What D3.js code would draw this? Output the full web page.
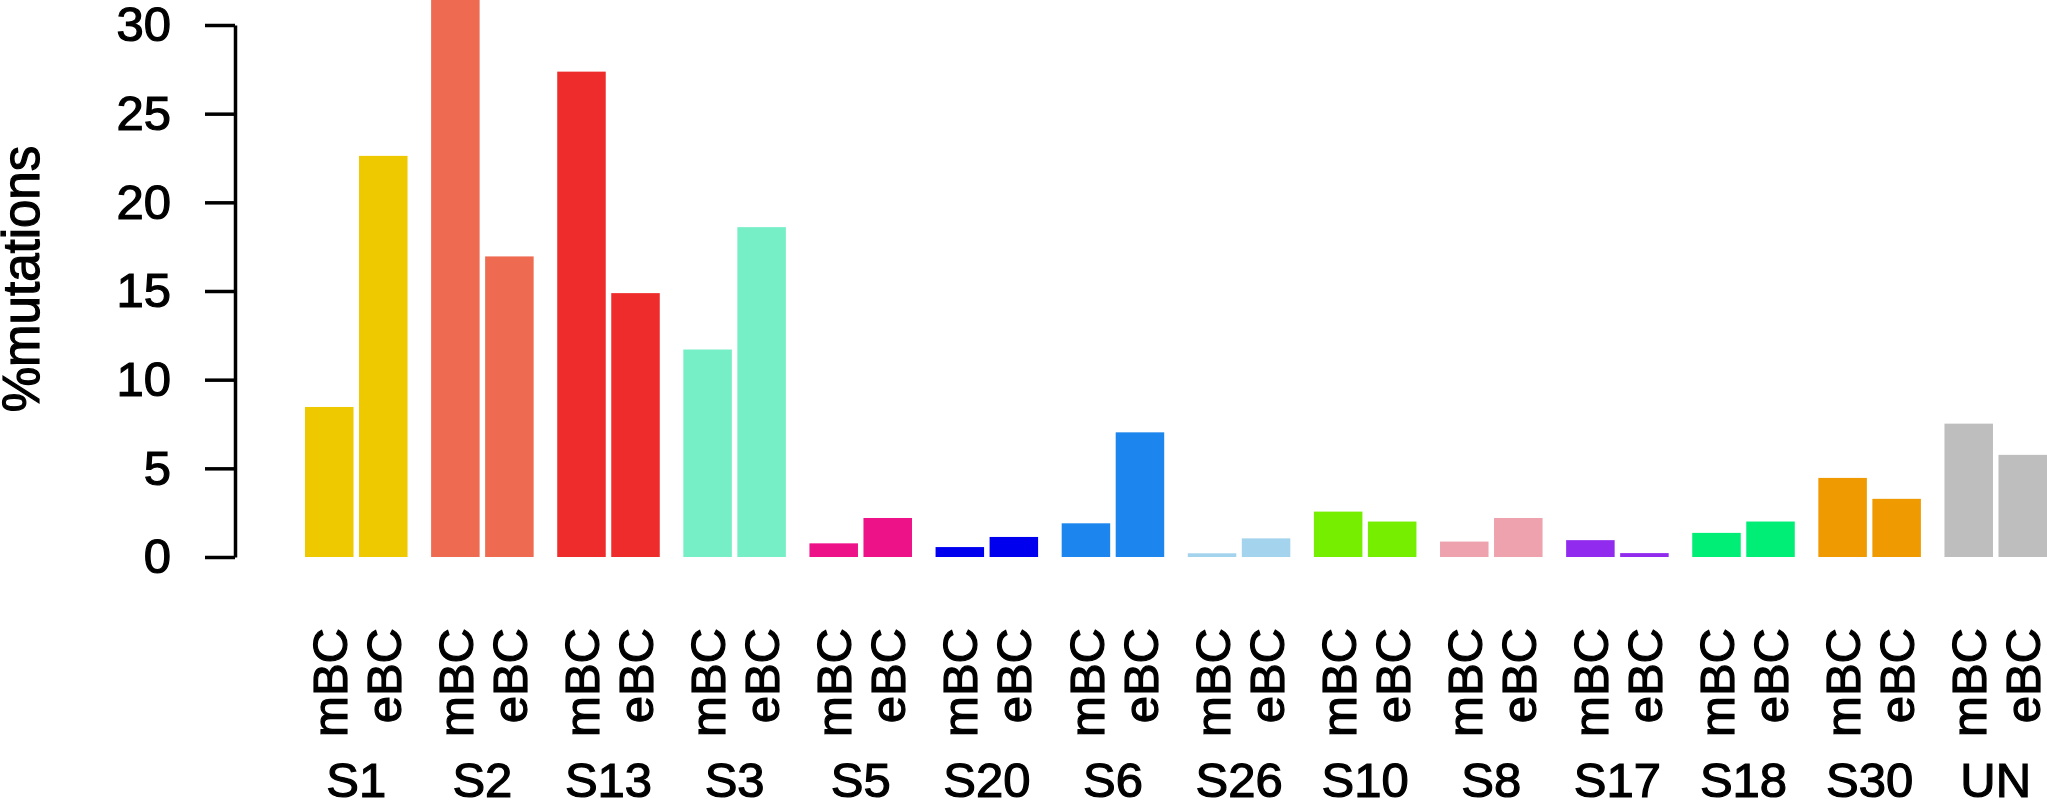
<!DOCTYPE html>
<html>
<head>
<meta charset="utf-8">
<script src="https://cdn.jsdelivr.net/npm/d3@7.9.0/dist/d3.min.js"></script>
<style>
  html, body { margin: 0; padding: 0; background: #fff; }
  svg { display: block; font-family: "Liberation Sans", Arial, sans-serif; }
  svg text { fill: #000; stroke: #000; stroke-width: 1.2px; }
</style>
</head>
<body>
<div id="chart"></div>
<script>
const groups = ["S1", "S2", "S13", "S3", "S5", "S20", "S6", "S26", "S10", "S8", "S17", "S18", "S30", "UN"];
const series = ["mBC", "eBC"];
const mBC = [8.46, 32.5, 27.37, 11.7, 0.77, 0.56, 1.9, 0.21, 2.56, 0.87, 0.95, 1.36, 4.46, 7.52];
const eBC = [22.62, 16.95, 14.88, 18.6, 2.2, 1.13, 7.03, 1.05, 2.0, 2.2, 0.22, 2.0, 3.28, 5.76];
const colors = ["#EEC900", "#EE6A50", "#EE2C2C", "#76EEC6", "#EE1289", "#0000EE", "#1C86EE",
                "#A4D3EE", "#76EE00", "#EEA2AD", "#912CEE", "#00EE76", "#EE9A00", "#BEBEBE"];
const yTicks = [0, 5, 10, 15, 20, 25, 30];

const width = 2047;
const height = 800;

const data = groups.map((g, i) => ({
  group: g,
  color: colors[i],
  values: [
    { key: "mBC", value: mBC[i] },
    { key: "eBC", value: eBC[i] },
  ],
}));

const svg = d3.select("#chart")
  .append("svg")
  .attr("width", width)
  .attr("height", height)
  .attr("viewBox", `0 0 ${width} ${height}`);

const x0 = d3.scaleBand()
  .domain(groups)
  .range([305, 2047])
  .paddingInner(0.187)
  .paddingOuter(0);

const x1 = d3.scaleBand()
  .domain(series)
  .range([0, x0.bandwidth()])
  .paddingInner(0.102)
  .paddingOuter(0);

const y = d3.scaleLinear()
  .domain([0, 30])
  .range([557, 25]);

// bars (clipped at the top of the picture)
svg.append("clipPath")
  .attr("id", "plot-clip")
  .append("rect")
  .attr("x", 0)
  .attr("y", 0)
  .attr("width", width)
  .attr("height", height);

const bars = svg.append("g").attr("clip-path", "url(#plot-clip)");

bars.selectAll("g")
  .data(data)
  .join("g")
  .attr("transform", (d) => `translate(${x0(d.group)},0)`)
  .selectAll("rect")
  .data((d) => d.values.map((v) => ({ ...v, color: d.color })))
  .join("rect")
  .attr("x", (d) => x1(d.key))
  .attr("y", (d) => y(d.value))
  .attr("width", x1.bandwidth())
  .attr("height", (d) => y(0) - y(d.value))
  .attr("fill", (d) => d.color);

// y axis
const yAxis = svg.append("g")
  .attr("transform", "translate(235,0)")
  .call(d3.axisLeft(y).tickValues(yTicks).tickSize(30).tickSizeOuter(0).tickPadding(34));

yAxis.select(".domain").attr("stroke", "#000").attr("stroke-width", 3.5);
yAxis.selectAll(".tick line").attr("stroke", "#000").attr("stroke-width", 3.5);
yAxis.selectAll(".tick text")
  .style("font-size", "49px")
  .style("font-family", "'Liberation Sans', Arial, sans-serif");

svg.append("text")
  .attr("transform", "translate(21,279) rotate(-90)")
  .attr("text-anchor", "middle")
  .attr("dy", "0.35em")
  .style("font-size", "51px")
  .text("%mutations");

// series labels under each bar
const labels = svg.append("g");
data.forEach((d) => {
  series.forEach((s) => {
    const cx = x0(d.group) + x1(s) + x1.bandwidth() / 2;
    labels.append("text")
      .attr("transform", `translate(${cx},628) rotate(-90)`)
      .attr("text-anchor", "end")
      .attr("dy", "0.36em")
      .style("font-size", "49px")
      .text(s);
  });
});

// group labels
svg.append("g")
  .selectAll("text")
  .data(groups)
  .join("text")
  .attr("x", (g) => x0(g) + x0.bandwidth() / 2)
  .attr("y", 797)
  .attr("text-anchor", "middle")
  .style("font-size", "49px")
  .text((g) => g);
</script>
</body>
</html>
